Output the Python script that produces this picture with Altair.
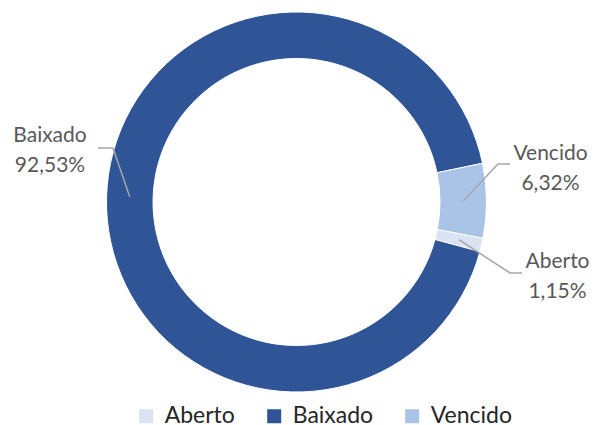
import math
import altair as alt
import pandas as pd

# ---- data ----
categories = ["Aberto", "Baixado", "Vencido"]
shares = [1.15, 92.53, 6.32]
colors = ["#DAE3F3", "#2F5597", "#A9C4E6"]

# ---- layout ----
W, H = 582, 417
CX, CY = 288.5, 194
R_OUT, R_IN = 190, 143.5
START = math.radians(101)
# first-line baseline of each label
label_pos = {"Aberto": (549.5, 260), "Baixado": (42, 133.7), "Vencido": (542.5, 152)}
elbows = {
    "Aberto": ((502, 265), (514, 265)),
    "Baixado": ((105, 140), (90, 140)),
    "Vencido": ((490, 156), (502, 156)),
}


def fmt(v):
    return f"{v:.2f}".replace(".", ",") + "%"


arc_df = pd.DataFrame({"cat": categories, "val": shares, "ord": list(range(len(categories)))})

total = sum(shares)
line_rows, text_rows = [], []
cum = 0.0
for c, v in zip(categories, shares):
    mid = START + 2 * math.pi * (cum + v / 2) / total
    cum += v
    r = (R_OUT + R_IN) / 2
    px, py = CX + r * math.sin(mid), CY - r * math.cos(mid)
    (ex, ey), (fx, fy) = elbows[c]
    line_rows += [
        dict(cat=c, k=0, x=px, y=py),
        dict(cat=c, k=1, x=ex, y=ey),
        dict(cat=c, k=2, x=fx, y=fy),
    ]
    lx, ly = label_pos[c]
    text_rows.append(dict(cat=c, x=lx, y=ly, label=f"{c}\n{fmt(v)}"))

line_df = pd.DataFrame(line_rows)
text_df = pd.DataFrame(text_rows)

xs = alt.Scale(domain=[0, W], range=[0, W])
ys = alt.Scale(domain=[0, H], range=[0, H])

arcs = alt.Chart(arc_df).mark_arc(
    innerRadius=R_IN, outerRadius=R_OUT, stroke="white", strokeWidth=1
).encode(
    theta=alt.Theta("val:Q", stack=True, scale=alt.Scale(range=[START, START + 2 * math.pi])),
    order=alt.Order("ord:Q"),
    color=alt.Color(
        "cat:N",
        scale=alt.Scale(domain=categories, range=colors),
        legend=alt.Legend(
            title=None,
            orient="none",
            legendX=126.7,
            legendY=396.5,
            direction="horizontal",
            symbolType="square",
            symbolSize=196,
            symbolStrokeWidth=0,
            labelFont="Lato",
            labelFontSize=23,
            labelColor="#262626",
            labelOffset=7,
            columnPadding=27,
            padding=0,
        ),
    ),
    x=alt.value(CX),
    y=alt.value(CY),
)

lines = alt.Chart(line_df).mark_line(color="#A6A6A6", strokeWidth=1.5).encode(
    x=alt.X("x:Q", scale=xs, axis=None),
    y=alt.Y("y:Q", scale=ys, axis=None),
    detail="cat:N",
    order="k:Q",
)

texts = alt.Chart(text_df).mark_text(
    font="Lato", fontSize=21, color="#595959", lineBreak="\n", lineHeight=30,
    align="center", baseline="alphabetic",
).encode(
    x=alt.X("x:Q", scale=xs, axis=None),
    y=alt.Y("y:Q", scale=ys, axis=None),
    text="label:N",
)

chart = alt.layer(arcs, lines, texts).properties(
    width=W, height=H, autosize="none", padding=0
).configure_view(stroke=None)

chart.save("out.html", embed_options={"renderer": "svg", "actions": False})
